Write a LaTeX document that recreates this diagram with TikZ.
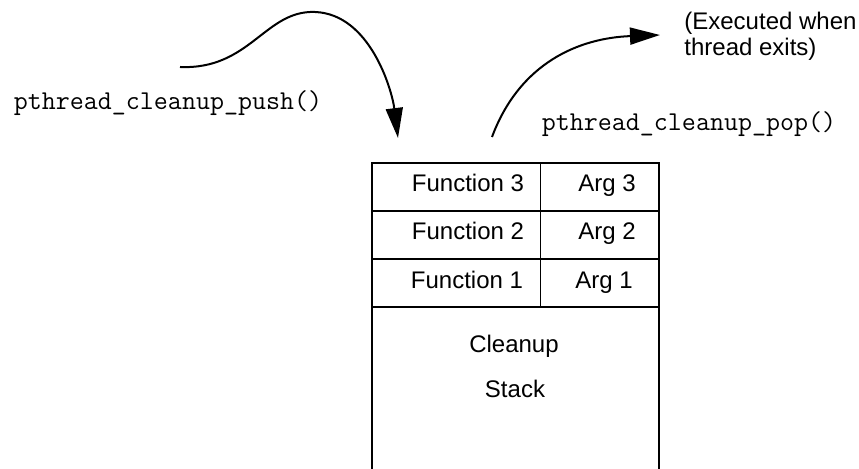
\documentclass[tikz,border=0pt]{standalone}
\usepackage{fontspec}
\setmainfont{Liberation Sans}
\usetikzlibrary{arrows.meta,positioning}
\tikzset{
  row/.style={rectangle, draw, line width=1pt, minimum width=143.5pt, minimum height=24pt, inner sep=0pt, outer sep=0pt},
  cell/.style={anchor=base, inner sep=0pt, font=\fontsize{12}{13}\selectfont},
  call/.style={inner sep=0pt, font=\fontsize{13.6}{15}\selectfont\ttfamily},
  note/.style={anchor=west, align=left, inner sep=0pt, font=\fontsize{12}{13}\selectfont},
  frame/.style={line width=1pt},
  divider/.style={line width=0.5pt},
  arr/.style={-{Triangle[length=15pt,width=8.5pt]}, line width=1pt}
}
\begin{document}
\begin{tikzpicture}[x=0.5pt, y=-0.5pt]
\useasboundingbox (0,0) rectangle (859,469);

\node[row] (row3) at (515.5,187) {};
\node[row, below=0pt of row3] (row2) {};
\node[row, below=0pt of row2] (row1) {};
\coordinate (split) at (540,163);
\coordinate (floor) at (0,472);
\draw[divider] (split) -- (split |- row1.south);
\draw[frame] (row1.south west) -- (row1.south west |- floor);
\draw[frame] (row1.south east) -- (row1.south east |- floor);

\node[cell] (fn3) at (468,192) {Function 3};
\node[cell] (arg3) at (607,192) {Arg 3};
\node[cell] (fn2) at (468,240) {Function 2};
\node[cell] (arg2) at (607,240) {Arg 2};
\node[cell] (fn1) at (467,289) {Function 1};
\node[cell] (arg1) at (604,289) {Arg 1};
\node[cell] (cleanup) at (514,353) {Cleanup};
\node[cell] (stack) at (515,398) {Stack};

\node[call] (push) at (168,103) {pthread\_cleanup\_push()};
\node[call] (pop) at (689,124) {pthread\_cleanup\_pop()};
\node[note] (exits) at (684,36) {(Executed when\\thread exits)};

\coordinate (pushfrom) at (180,67);
\coordinate (pushtop) at (315,12);
\coordinate (pushto) at (398,138);
\coordinate (popfrom) at (492,137);
\coordinate (popto) at (660,35);
\draw[arr] (pushfrom) .. controls (250,70) and (265,10) .. (pushtop) .. controls (370,14) and (392,90) .. (pushto);
\draw[arr] (popfrom) .. controls (520,62) and (580,38) .. (popto);
\end{tikzpicture}
\end{document}
